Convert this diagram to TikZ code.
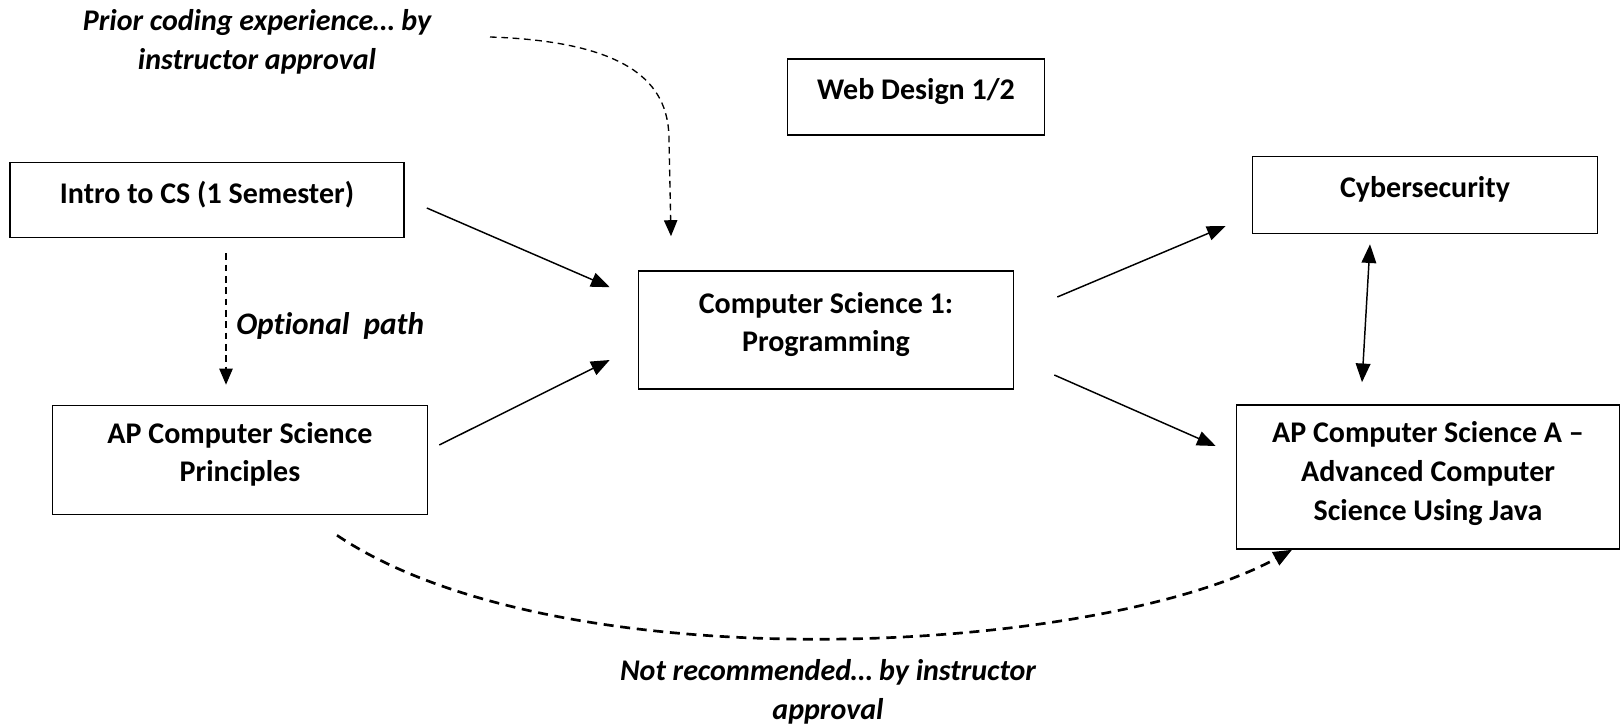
\documentclass[tikz,border=0pt]{standalone}
\usepackage{fontspec}
\setmainfont{Carlito}[Ligatures=NoCommon]
\usetikzlibrary{arrows.meta,calc}
\begin{document}
\begin{tikzpicture}[x=0.75pt,y=-0.75pt,
  box/.style={draw, line width=1.2pt, align=center, font=\fontsize{22.5}{28.9}\selectfont\bfseries, inner sep=0pt, text depth=12pt},
  lbl/.style={align=center, font=\fontsize{22.5}{29.5}\selectfont\bfseries\itshape, inner sep=0pt},
  arr/.style={line width=1.1pt, -{Triangle[length=14pt,width=11pt]}},
  darr/.style={line width=1.1pt, {Triangle[length=14pt,width=11pt]}-{Triangle[length=14pt,width=11pt]}},
  dsh/.style={line width=1pt, dash pattern=on 5pt off 3.5pt, -{Triangle[length=12pt,width=10pt]}},
  bdsh/.style={line width=2pt, dash pattern=on 7.5pt off 5pt, -{Triangle[length=14pt,width=11pt]}}]
\path[use as bounding box, fill=white] (0,0) rectangle (1623,727);

\node[box, minimum width=192.75pt, minimum height=57pt] (web) at (916,97) {Web Design 1/2};
\node[box, minimum width=295.5pt, minimum height=56.25pt] (intro) at (207,200) {Intro to CS (1 Semester)};
\node[box, minimum width=258.75pt, minimum height=57.75pt] (cyber) at (1425,195) {Cybersecurity};
\node[box, minimum width=281.25pt, minimum height=88.5pt] (cs1) at (826,330) {Computer Science 1:\\Programming};
\node[box, minimum width=281.25pt, minimum height=81.75pt] (csp) at (240,460) {AP Computer Science\\Principles};
\node[box, minimum width=287.25pt, minimum height=108pt, text depth=9pt] (csa) at (1428,477) {AP Computer Science A --\\Advanced Computer\\Science Using Java};

\node[lbl] (prior) at (257,42) {Prior coding experience\dots\ by\\instructor approval};
\node[lbl, anchor=west, font=\fontsize{23.5}{29}\selectfont\bfseries\itshape] (opt) at (236,326) {Optional\ \ path};
\node[lbl] (notrec) at (828,692) {Not recommended\dots\ by instructor\\approval};

\coordinate (pstart) at (490,37);
\draw[dsh] (pstart) .. controls (640,42) and (669,90) .. (669,140) -- ([shift={(-155,-34)}]cs1.north);

\draw[arr] ([shift={(22,8)}]intro.east) -- ([shift={(-28,17)}]cs1.north west);
\draw[arr] ([shift={(11,-15)}]csp.east) -- ([shift={(-28,30)}]cs1.west);
\draw[arr] ([shift={(43,-33)}]cs1.east) -- ([shift={(-26,31)}]cyber.west);
\draw[arr] ([shift={(40,45)}]cs1.east) -- ([shift={(-20,-31)}]csa.west);
\draw[darr] ([shift={(-55,10)}]cyber.south) -- ([shift={(-66,-22)}]csa.north);
\draw[dsh] ([shift={(19,15)}]intro.south) -- ([shift={(-14,-20)}]csp.north);
\draw[bdsh] ([shift={(97,20)}]csp.south) .. controls (560,685) and (1100,655) .. ([shift={(-136,0)}]csa.south);
\end{tikzpicture}
\end{document}
